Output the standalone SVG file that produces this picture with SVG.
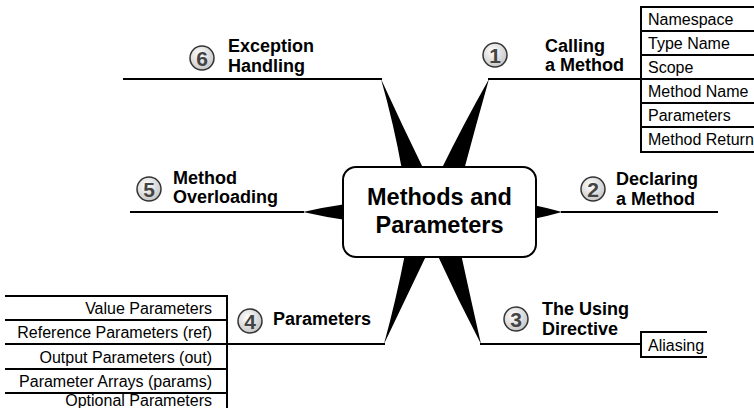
<svg xmlns="http://www.w3.org/2000/svg" width="754" height="408" viewBox="0 0 754 408">
<defs>
<radialGradient id="cg" cx="0.4" cy="0.35" r="0.7">
<stop offset="0" stop-color="#ffffff"/>
<stop offset="1" stop-color="#c4c4c4"/>
</radialGradient>
<style>
.ln{stroke:#000;stroke-width:2;fill:none}
.wd{fill:#000;stroke:none}
.lb{font-family:"Liberation Sans",Arial,sans-serif;font-weight:bold;font-size:18px;fill:#000}
.num{font-family:"Liberation Sans",Arial,sans-serif;font-weight:bold;font-size:21px;fill:#444;text-anchor:middle}
.nc{fill:url(#cg);stroke:#333;stroke-width:1.5}
.tb{fill:#fff;stroke:#000;stroke-width:2}
.tt{font-family:"Liberation Sans",Arial,sans-serif;font-size:16px;fill:#000}
.ttr{font-family:"Liberation Sans",Arial,sans-serif;font-size:16px;fill:#000;text-anchor:end}
.ct{font-family:"Liberation Sans",Arial,sans-serif;font-weight:bold;font-size:23.5px;fill:#000;text-anchor:middle}
</style>
</defs>
<rect width="754" height="408" fill="#fff"/>
<g id="connectors">
<path class="wd" d="M381,79 Q394,125 402,170 L424,170 Q402,125 381,79 Z"/>
<path class="wd" d="M489,79 Q463,125 441,170 L464,170 Q476,125 489,79 Z"/>
<path class="wd" d="M384,344 Q396,300 405,254 L427,254 Q405,300 384,344 Z"/>
<path class="wd" d="M481,344 Q458,300 437,254 L461,254 Q471,300 481,344 Z"/>
<path class="wd" d="M303,212 Q325,207 346,204 L346,220 Q325,217 303,212 Z"/>
<path class="wd" d="M562,212 Q548,208 533,205 L533,219 Q548,216 562,212 Z"/>
<line class="ln" x1="123" y1="79" x2="382" y2="79"/>
<line class="ln" x1="488" y1="79" x2="642" y2="79"/>
<line class="ln" x1="130" y1="212" x2="304" y2="212"/>
<line class="ln" x1="561" y1="212" x2="718" y2="212"/>
<line class="ln" x1="227" y1="344" x2="385" y2="344"/>
<line class="ln" x1="480" y1="344" x2="641" y2="344"/>
</g>
<g id="center">
<rect x="343" y="167" width="193" height="90" rx="13" ry="13" fill="#fff" stroke="#000" stroke-width="2"/>
<text class="ct" x="439.5" y="205">Methods and</text>
<text class="ct" x="439.5" y="233">Parameters</text>
</g>
<g id="n1">
<circle class="nc" cx="495" cy="55" r="12"/>
<text class="num" x="495" y="62.5">1</text>
<text class="lb" x="545" y="52">Calling</text>
<text class="lb" x="545" y="71">a Method</text>
</g>
<g id="t1">
<rect class="tb" x="641" y="7" width="120" height="24"/>
<rect class="tb" x="641" y="31" width="120" height="24"/>
<rect class="tb" x="641" y="55" width="120" height="24"/>
<rect class="tb" x="641" y="79" width="120" height="24"/>
<rect class="tb" x="641" y="103" width="120" height="24"/>
<rect class="tb" x="641" y="127" width="120" height="25"/>
<text class="tt" x="648" y="25">Namespace</text>
<text class="tt" x="648" y="49">Type Name</text>
<text class="tt" x="648" y="73">Scope</text>
<text class="tt" x="648" y="97">Method Name</text>
<text class="tt" x="648" y="121">Parameters</text>
<text class="tt" x="648" y="145">Method Return</text>
</g>
<g id="n2">
<circle class="nc" cx="593" cy="189" r="12"/>
<text class="num" x="593" y="196.5">2</text>
<text class="lb" x="616" y="185">Declaring</text>
<text class="lb" x="616" y="205">a Method</text>
</g>
<g id="n3">
<circle class="nc" cx="516" cy="319" r="12"/>
<text class="num" x="516" y="326.5">3</text>
<text class="lb" x="542" y="315">The Using</text>
<text class="lb" x="542" y="335">Directive</text>
</g>
<g id="t3">
<path class="ln" d="M707,332 H641 V357 H707"/>
<text class="tt" x="648" y="351">Aliasing</text>
</g>
<g id="n4">
<circle class="nc" cx="250" cy="321" r="12"/>
<text class="num" x="250" y="328.5">4</text>
<text class="lb" x="273" y="325">Parameters</text>
</g>
<g id="t4">
<path class="ln" d="M5,296 H227 V410"/>
<line class="ln" x1="5" y1="320" x2="227" y2="320"/>
<line class="ln" x1="5" y1="344" x2="227" y2="344"/>
<line class="ln" x1="5" y1="369" x2="227" y2="369"/>
<line class="ln" x1="5" y1="393" x2="227" y2="393"/>
<text class="ttr" x="212" y="314">Value Parameters</text>
<text class="ttr" x="212" y="338">Reference Parameters (ref)</text>
<text class="ttr" x="212" y="363">Output Parameters (out)</text>
<text class="ttr" x="212" y="387">Parameter Arrays (params)</text>
<text class="ttr" x="212" y="406">Optional Parameters</text>
</g>
<g id="n5">
<circle class="nc" cx="149" cy="189" r="12"/>
<text class="num" x="149" y="196.5">5</text>
<text class="lb" x="173" y="184">Method</text>
<text class="lb" x="173" y="203">Overloading</text>
</g>
<g id="n6">
<circle class="nc" cx="202" cy="58" r="12"/>
<text class="num" x="202" y="65.5">6</text>
<text class="lb" x="228" y="52">Exception</text>
<text class="lb" x="228" y="72">Handling</text>
</g>
</svg>
